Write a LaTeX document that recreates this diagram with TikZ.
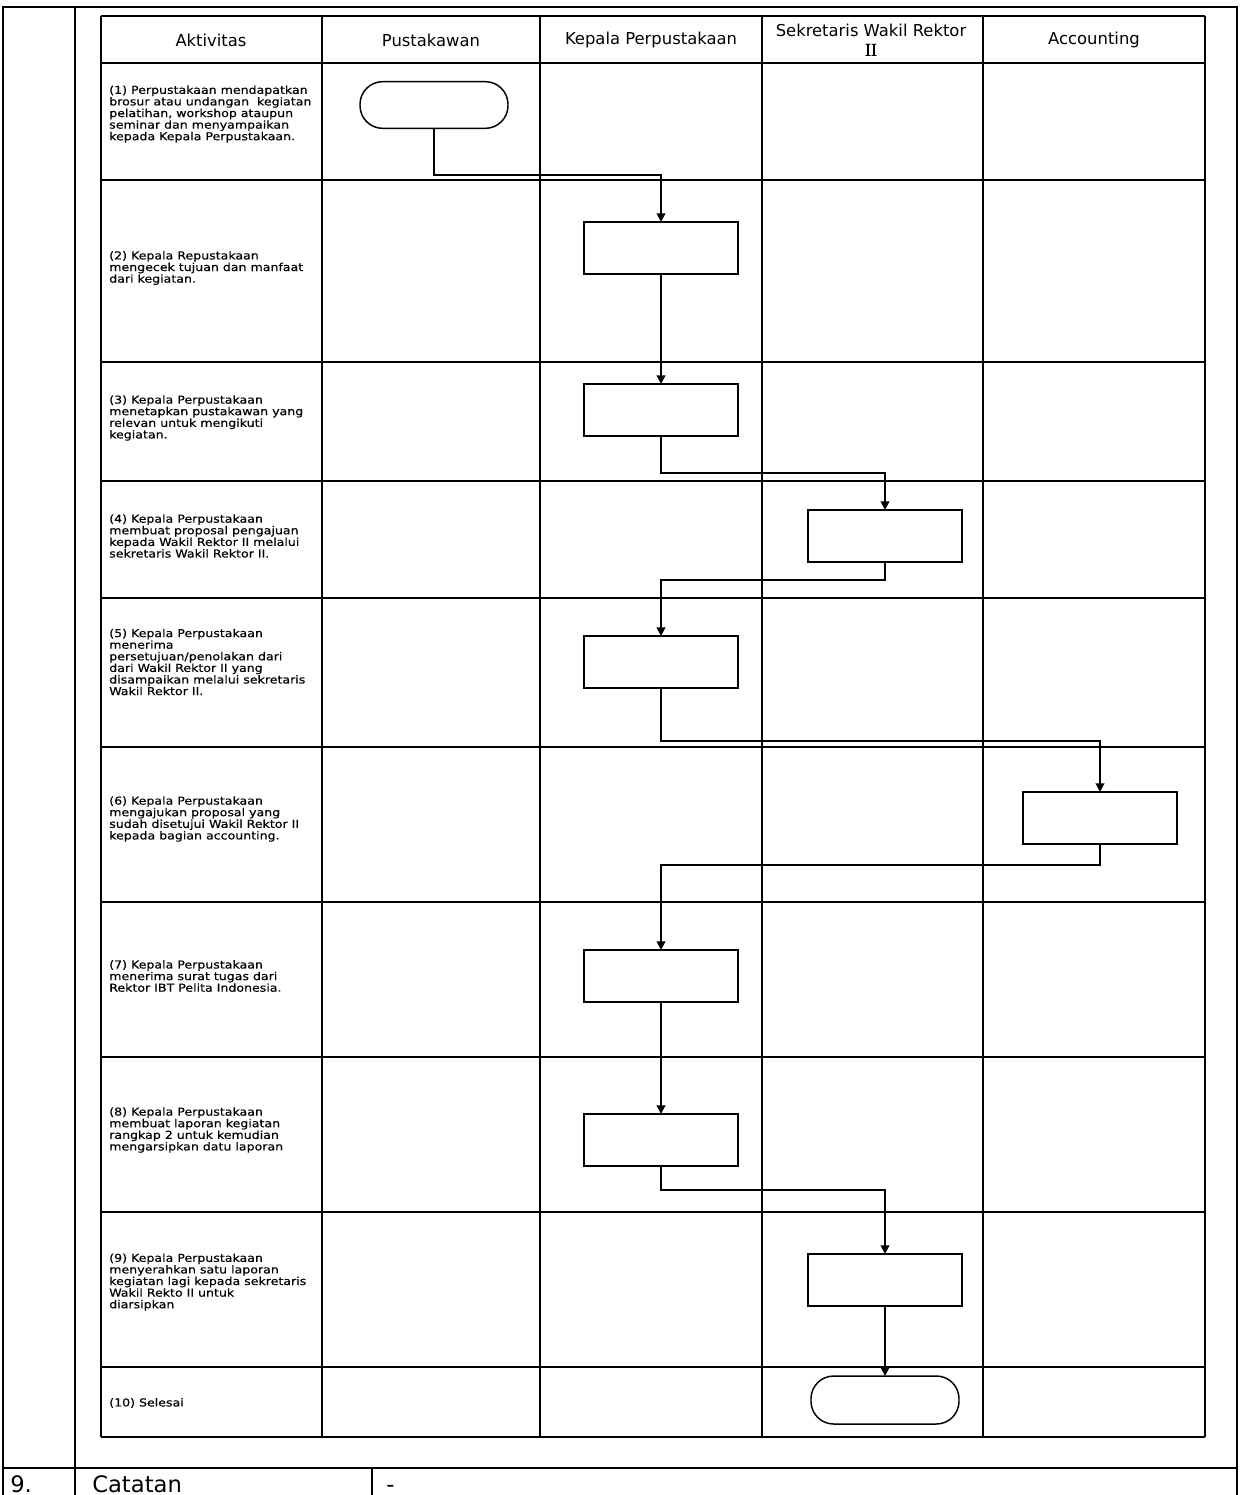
\documentclass[tikz,border=0pt]{standalone}
\usepackage{fontspec}
\setmainfont{DejaVu Sans}
\newfontfamily\actfont[FakeStretch=1.15,FakeBold=0.4]{DejaVu Sans}
\newfontfamily\hdrfont{DejaVu Sans}
\newfontfamily\romfont[FakeBold=0.5]{Liberation Serif}
\usetikzlibrary{arrows.meta}
\tikzset{
  frameline/.style={line width=1.8pt},
  gridline/.style={line width=1.5pt},
  procbox/.style={draw, line width=1.1pt, fill=white, minimum width=115.5pt, minimum height=39pt, inner sep=0pt, outer sep=0pt},
  termbox/.style={draw, line width=1.1pt, fill=white, rounded corners=17pt, minimum width=111pt, minimum height=35pt, inner sep=0pt, outer sep=0pt},
  conn/.style={line width=1.4pt, -{Triangle[length=6.5pt,width=6.5pt]}},
  acttext/.style={anchor=west, align=left, inner sep=0pt, font=\actfont\fontsize{8.2}{8.7}\selectfont},
  hdr/.style={align=center, inner sep=0pt, font=\hdrfont\fontsize{12.3}{13.5}\selectfont},
  bigtext/.style={anchor=base west, inner sep=0pt, font=\fontsize{17}{19}\selectfont}
}
\begin{document}
\begin{tikzpicture}[x=0.75pt, y=-0.75pt]
\clip (0,0) rectangle (1240,1495);
\fill[white] (0,0) rectangle (1240,1495);
% outer frame
\draw[frameline] (3,1495) -- (3,7) -- (1237,7) -- (1237,1495);
\draw[frameline] (75,7) -- (75,1495);
\draw[frameline] (3,1468) -- (1237,1468);
\draw[frameline] (372,1468) -- (372,1495);
% inner table
\foreach \yy in {16,63,180,362,481,598,747,902,1057,1212,1367,1437}
  \draw[gridline] (101,\yy) -- (1205,\yy);
\foreach \xx in {101,322,540,762,983,1205}
  \draw[gridline] (\xx,16) -- (\xx,1437);
% headers
\node[hdr] (h1) at (211,40) {Aktivitas};
\node[hdr] (h2) at (431,40) {Pustakawan};
\node[hdr] (h3) at (651,40) {Kepala Perpustakaan};
\node[hdr, font=\hdrfont\fontsize{12.3}{14.3}\selectfont] (h4) at (871,40) {Sekretaris Wakil Rektor\\{\romfont\fontsize{13.5}{14.3}\selectfont II}};
\node[hdr] (h5) at (1094,40) {Accounting};
% activity texts
\node[acttext] (t1) at (109,114) {(1) Perpustakaan mendapatkan\\brosur atau undangan\ \ kegiatan\\pelatihan, workshop ataupun\\seminar dan menyampaikan\\kepada Kepala Perpustakaan.};
\node[acttext] (t2) at (109,268) {(2) Kepala Repustakaan\\mengecek tujuan\ dan manfaat\\dari kegiatan.};
\node[acttext] (t3) at (109,418) {(3) Kepala Perpustakaan\\menetapkan pustakawan yang\\relevan untuk\ mengikuti\\kegiatan.};
\node[acttext] (t4) at (109,536) {(4) Kepala Perpustakaan\\membuat proposal pengajuan\\kepada Wakil Rektor II melalui\\sekretaris Wakil Rektor II.};
\node[acttext] (t5) at (109,662) {(5) Kepala Perpustakaan\\menerima\\persetujuan/penolakan\ dari\\dari Wakil Rektor II yang\\disampaikan melalui sekretaris\\Wakil Rektor II.};
\node[acttext] (t6) at (109,819) {(6) Kepala Perpustakaan\\mengajukan\ proposal yang\\sudah disetujui\ Wakil Rektor II\\kepada\ bagian accounting.};
\node[acttext] (t7) at (109,976) {(7) Kepala Perpustakaan\\menerima surat tugas dari\\Rektor IBT Pelita Indonesia.};
\node[acttext] (t8) at (109,1130) {(8) Kepala Perpustakaan\\membuat laporan kegiatan\\rangkap 2 untuk\ kemudian\\mengarsipkan datu laporan};
\node[acttext] (t9) at (109,1282) {(9) Kepala Perpustakaan\\menyerahkan satu laporan\\kegiatan lagi kepada\ sekretaris\\Wakil Rekto II untuk\\diarsipkan};
\node[acttext] (t10) at (109,1403) {(10) Selesai};
% shapes
\node[termbox] (s) at (434,105) {};
\node[procbox] (b2) at (661,248) {};
\node[procbox] (b3) at (661,410) {};
\node[procbox] (b4) at (885,536) {};
\node[procbox] (b5) at (661,662) {};
\node[procbox] (b6) at (1100,818) {};
\node[procbox] (b7) at (661,976) {};
\node[procbox] (b8) at (661,1140) {};
\node[procbox] (b9) at (885,1280) {};
\node[termbox, minimum height=36pt] (e) at (885,1400) {};
% connectors
\draw[conn] (s.south) -- (s.south |- 0,175) -| (b2.north);
\draw[conn] (b2.south) -- (b3.north);
\draw[conn] (b3.south) -- (b3.south |- 0,473) -| (b4.north);
\draw[conn] (b4.south) -- (b4.south |- 0,580) -| (b5.north);
\draw[conn] (b5.south) -- (b5.south |- 0,741) -| (b6.north);
\draw[conn] (b6.south) -- (b6.south |- 0,865) -| (b7.north);
\draw[conn] (b7.south) -- (b8.north);
\draw[conn] (b8.south) -- (b8.south |- 0,1190) -| (b9.north);
\draw[conn] (b9.south) -- (e.north);
% bottom row
\node[bigtext] (n9) at (10,1492) {9.};
\node[bigtext] (cat) at (92,1492) {Catatan};
\node[bigtext] (dash) at (386,1492) {-};
\end{tikzpicture}
\end{document}
